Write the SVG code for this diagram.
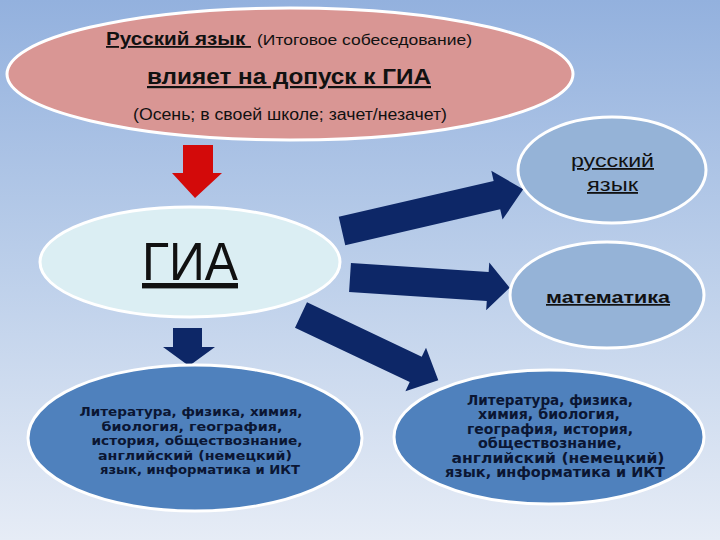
<svg xmlns="http://www.w3.org/2000/svg" width="720" height="540" viewBox="0 0 720 540">
<defs>
<linearGradient id="bg" x1="0" y1="0" x2="0" y2="1">
<stop offset="0" stop-color="#93b1de"/>
<stop offset="0.5" stop-color="#bccfea"/>
<stop offset="1" stop-color="#e6ecf6"/>
</linearGradient>
<style>
.ell{stroke:#ffffff;stroke-width:3}
.nav{fill:#0d2767}
.t{font-family:"Liberation Sans","DejaVu Sans",sans-serif;fill:#111}
.m{text-anchor:middle}
.b{font-family:"DejaVu Sans",sans-serif;font-weight:bold;fill:#0b1633;text-anchor:middle;font-size:12.5px}
.b2{font-size:13.3px}
</style>
</defs>
<rect width="720" height="540" fill="url(#bg)"/>

<g id="connectors">
<polygon points="183,145 213,145 213,173 222,173 195,198 172,173 183,173" fill="#d30a0a"/>
<polygon class="nav" points="173,328 202,328 202,347 215,347 189,366 163,347 173,347"/>
<polygon class="nav" transform="translate(342,231) rotate(-13)" points="0,-14.5 159,-14.5 159,-25 186,0 159,25 159,14.5 0,14.5"/>
<polygon class="nav" transform="translate(350,277.5) rotate(3.7)" points="0,-14.5 138,-14.5 138,-24 160,0 138,24 138,14.5 0,14.5"/>
<polygon class="nav" transform="translate(301,315) rotate(25.4)" points="0,-14 127,-14 127,-24 152,0 127,24 127,14 0,14"/>
</g>

<g id="top">
<ellipse class="ell" cx="290" cy="74" rx="283" ry="66" fill="#d99694"/>
<text class="t" x="106" y="45" font-size="18" font-weight="bold" text-decoration="underline" textLength="145" lengthAdjust="spacingAndGlyphs" xml:space="preserve">Русский язык </text>
<text class="t" x="257" y="45" font-size="15.5" textLength="215" lengthAdjust="spacingAndGlyphs">(Итоговое собеседование)</text>
<text class="t" x="147" y="84" font-size="22" font-weight="bold" text-decoration="underline" textLength="284" lengthAdjust="spacingAndGlyphs">влияет на допуск к ГИА</text>
<text class="t" x="133" y="120" font-size="16" textLength="314" lengthAdjust="spacingAndGlyphs">(Осень; в своей школе; зачет/незачет)</text>
</g>

<g id="gia">
<ellipse class="ell" cx="190" cy="262" rx="150" ry="55" fill="#dbeef3"/>
<text class="t" x="142" y="280" font-size="54" text-decoration="underline" textLength="96" lengthAdjust="spacingAndGlyphs">ГИА</text>
</g>

<g id="rus">
<ellipse class="ell" cx="612" cy="170" rx="94" ry="53" fill="#95b3d7"/>
<text class="t" x="571" y="167" font-size="18" text-decoration="underline" textLength="83" lengthAdjust="spacingAndGlyphs">русский</text>
<text class="t" x="587" y="191" font-size="18" text-decoration="underline" textLength="51" lengthAdjust="spacingAndGlyphs">язык</text>
</g>

<g id="math">
<ellipse class="ell" cx="607" cy="295" rx="97" ry="53" fill="#95b3d7"/>
<text class="t" x="546" y="303" font-size="17" font-weight="bold" text-decoration="underline" textLength="124" lengthAdjust="spacingAndGlyphs">математика</text>
</g>

<g id="left">
<ellipse class="ell" cx="195" cy="438" rx="167" ry="73" fill="#4f81bd"/>
<text class="b" x="191" y="416" textLength="223" lengthAdjust="spacingAndGlyphs">Литература, физика, химия,</text>
<text class="b" x="192" y="430.5" textLength="181" lengthAdjust="spacingAndGlyphs">биология, география,</text>
<text class="b" x="197" y="445" textLength="211" lengthAdjust="spacingAndGlyphs">история, обществознание,</text>
<text class="b" x="195" y="459.5" textLength="194" lengthAdjust="spacingAndGlyphs">английский (немецкий)</text>
<text class="b" x="200" y="474" textLength="200" lengthAdjust="spacingAndGlyphs">язык, информатика и ИКТ</text>
</g>

<g id="right">
<ellipse class="ell" cx="549" cy="437" rx="155" ry="67" fill="#4f81bd"/>
<text class="b b2" x="550" y="405" textLength="166" lengthAdjust="spacingAndGlyphs">Литература, физика,</text>
<text class="b b2" x="549" y="419" textLength="142" lengthAdjust="spacingAndGlyphs">химия, биология,</text>
<text class="b b2" x="550" y="433.5" textLength="166" lengthAdjust="spacingAndGlyphs">география, история,</text>
<text class="b b2" x="550" y="448" textLength="144" lengthAdjust="spacingAndGlyphs">обществознание,</text>
<text class="b b2" x="558" y="462.5" textLength="213" lengthAdjust="spacingAndGlyphs">английский (немецкий)</text>
<text class="b b2" x="555" y="477" textLength="220" lengthAdjust="spacingAndGlyphs">язык, информатика и ИКТ</text>
</g>
</svg>
